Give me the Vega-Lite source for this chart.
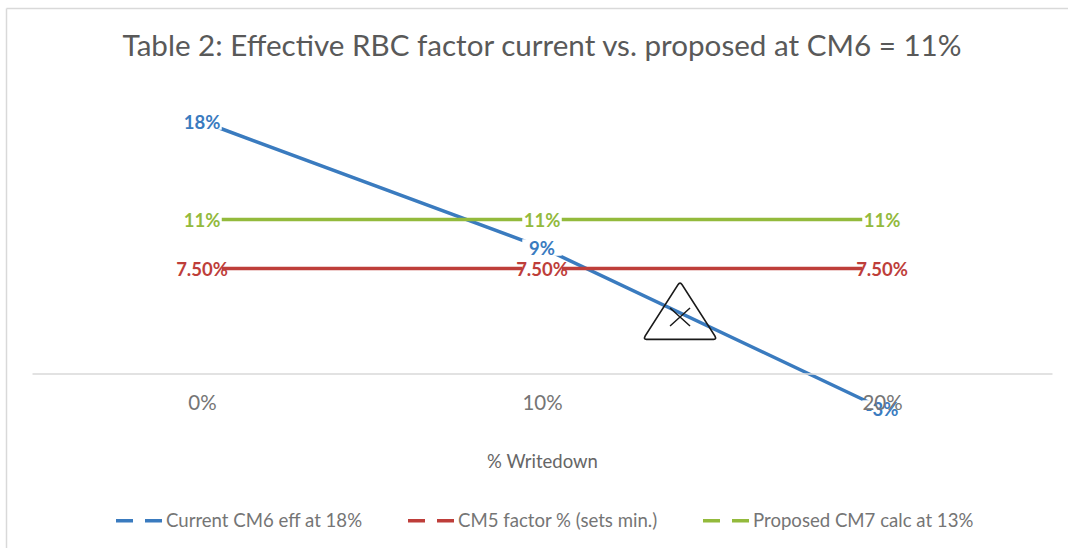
{
  "$schema": "https://vega.github.io/schema/vega-lite/v6.json",
  "width": 1020,
  "height": 280,
  "autosize": {"type": "none"},
  "padding": {"left": 32, "top": 93.5, "right": 16, "bottom": 174.5},
  "background": "white",
  "title": {"text": "Table 2: Effective RBC factor current vs. proposed at CM6 = 11%", "font": "Lato", "fontSize": 29.6, "fontWeight": "normal", "color": "#595959", "anchor": "middle", "offset": -55},
  "config": {"view": {"stroke": null}, "font": "Lato"},
  "datasets": {
    "series": [
      {"writedown": 0, "value": 18, "label": "18%", "series": "Current CM6 eff at 18%"},
      {"writedown": 10, "value": 9, "label": "9%", "series": "Current CM6 eff at 18%"},
      {"writedown": 20, "value": -2.5, "label": "-3%", "series": "Current CM6 eff at 18%"},
      {"writedown": 0, "value": 7.5, "label": "7.50%", "series": "CM5 factor % (sets min.)"},
      {"writedown": 10, "value": 7.5, "label": "7.50%", "series": "CM5 factor % (sets min.)"},
      {"writedown": 20, "value": 7.5, "label": "7.50%", "series": "CM5 factor % (sets min.)"},
      {"writedown": 0, "value": 11, "label": "11%", "series": "Proposed CM7 calc at 13%"},
      {"writedown": 10, "value": 11, "label": "11%", "series": "Proposed CM7 calc at 13%"},
      {"writedown": 20, "value": 11, "label": "11%", "series": "Proposed CM7 calc at 13%"}
    ]
  },
  "layer": [
    {
      "data": {"name": "series"},
      "mark": {"type": "line", "strokeWidth": 3.5},
      "encoding": {
        "x": {"field": "writedown", "type": "quantitative", "scale": {"domain": [-5, 25], "nice": false, "zero": false},
          "axis": {"values": [0, 10, 20], "labelExpr": "datum.value + '%'", "grid": false, "ticks": false, "domainColor": "#d9d9d9", "domainWidth": 1.5, "labelFont": "Lato", "labelFontSize": 20.5, "labelColor": "#757575", "labelPadding": 20, "title": "% Writedown", "titleFont": "Lato", "titleFontSize": 18.5, "titleFontWeight": "normal", "titleColor": "#666666", "titlePadding": 38, "zindex": 1}},
        "y": {"field": "value", "type": "quantitative", "scale": {"domain": [0, 20], "nice": false}, "axis": null},
        "color": {"field": "series", "type": "nominal", "scale": {"domain": ["Current CM6 eff at 18%", "CM5 factor % (sets min.)", "Proposed CM7 calc at 13%"], "range": ["#3a7bbf", "#be3e3a", "#93ba3c"]},
          "legend": {"orient": "none", "legendX": 82, "legendY": 402, "direction": "horizontal", "title": null, "symbolType": "stroke", "symbolSize": 2116, "symbolDash": [17, 12], "symbolStrokeWidth": 3.5, "labelFont": "Lato", "labelFontSize": 18.6, "labelColor": "#757575", "labelOffset": 2, "labelLimit": 400, "columnPadding": 38}}
      }
    },
    {
      "data": {"name": "series"},
      "mark": {"type": "point", "filled": true, "fill": "white", "strokeWidth": 0, "opacity": 1, "size": 1560, "shape": "M-1,-0.42L1,-0.42L1,0.42L-1,0.42Z"},
      "encoding": {
        "x": {"field": "writedown", "type": "quantitative"},
        "y": {"field": "value", "type": "quantitative"}
      }
    },
    {
      "data": {"name": "series"},
      "mark": {"type": "text", "fontSize": 18.5, "fontWeight": "bold", "font": "Lato", "align": "center", "baseline": "middle", "dy": 1},
      "encoding": {
        "x": {"field": "writedown", "type": "quantitative"},
        "y": {"field": "value", "type": "quantitative"},
        "text": {"field": "label"},
        "color": {"field": "series", "type": "nominal", "legend": null}
      }
    },
    {
      "data": {"values": [{"writedown": 14.06, "value": 4.46}]},
      "mark": {"type": "point", "filled": false, "stroke": "#1a1a1a", "strokeWidth": 1.7, "strokeJoin": "round", "size": 6400, "opacity": 1, "shape": "M-0.05,-0.66Q0,-0.74 0.05,-0.66L0.87,0.62Q0.92,0.71 0.84,0.71L-0.84,0.71Q-0.92,0.71 -0.87,0.62Z"},
      "encoding": {
        "x": {"field": "writedown", "type": "quantitative"},
        "y": {"field": "value", "type": "quantitative"}
      }
    },
    {
      "data": {"values": [{"writedown": 14.06, "value": 4.04}]},
      "mark": {"type": "point", "filled": false, "stroke": "#1a1a1a", "strokeWidth": 1.5, "size": 400, "opacity": 1, "shape": "M-1,-0.9L1,0.9M1,-0.9L-1,0.9"},
      "encoding": {
        "x": {"field": "writedown", "type": "quantitative"},
        "y": {"field": "value", "type": "quantitative"}
      }
    },
    {
      "data": {"values": [{"writedown": -5.75, "writedownEnd": 25.47, "value": 26.07}]},
      "mark": {"type": "rule", "color": "#d9d9d9", "strokeWidth": 1.5},
      "encoding": {
        "x": {"field": "writedown", "type": "quantitative"},
        "x2": {"field": "writedownEnd"},
        "y": {"field": "value", "type": "quantitative"}
      }
    },
    {
      "data": {"values": [{"writedown": -5.75, "value": 26.07, "valueEnd": -12.46}]},
      "mark": {"type": "rule", "color": "#d9d9d9", "strokeWidth": 1.5},
      "encoding": {
        "x": {"field": "writedown", "type": "quantitative"},
        "y": {"field": "value", "type": "quantitative"},
        "y2": {"field": "valueEnd"}
      }
    }
  ]
}
